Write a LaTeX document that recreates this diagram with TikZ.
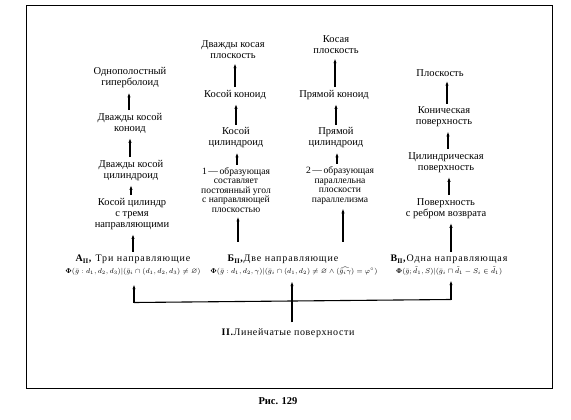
\documentclass[tikz,border=0pt]{standalone}
\usepackage{amsmath}
\usepackage{amssymb}
\usepackage{fontspec}
\setmainfont{Liberation Serif}
\usetikzlibrary{arrows.meta}
\tikzset{
  lbl/.style={align=center, inner sep=1pt, font=\fontsize{10.5}{11}\selectfont},
  small/.style={align=center, inner sep=1pt, font=\fontsize{9.6}{9.4}\selectfont},
  base/.style={align=center, inner sep=1pt, font=\fontsize{10}{10.5}\selectfont\addfontfeature{LetterSpace=9}},
  arr/.style={line width=1.3pt, -{Latex[length=5pt,width=3.2pt]}, shorten <=2pt, shorten >=3pt},
  bar/.style={line width=1.1pt},
  frame/.style={line width=0.9pt}
}
\newcommand{\frmsize}{\fontsize{7.2}{9}\selectfont}
\begin{document}
\begin{tikzpicture}[x=1pt,y=-1pt]
\useasboundingbox (0,0) rectangle (571,420);
\draw[frame] (26,5) rectangle (552,388);

% column 1
\node[lbl] (n11) at (130,78) {Однополостный\\гиперболоид};
\node[lbl] (n12) at (130,123.5) {Дважды косой\\коноид};
\node[lbl] (n13) at (131,170.5) {Дважды косой\\цилиндроид};
\node[lbl] (n14) at (132,214) {Косой цилиндр\\с тремя\\направляющими};
\node[base] (a) at (133,265) {\textbf{А$_{\mathbf{II}}$,} Три направляющие\\[1pt]
  {\frmsize$\boldsymbol{\Phi}(\bar g : d_1, d_2, d_3)|(\bar g_i \cap (d_1, d_2, d_3) \neq \varnothing)$}};

% column 2
\node[lbl] (n21) at (233,50) {Дважды косая\\плоскость};
\node[lbl] (n22) at (235,95) {Косой коноид};
\node[lbl] (n23) at (236,138) {Косой\\цилиндроид};
\node[small] (n24) at (236,190) {1\,—\,образующая\\составляет\\постоянный угол\\с направляющей\\плоскостью};

% column 3
\node[lbl] (n31) at (336,45) {Косая\\плоскость};
\node[lbl] (n32) at (334,95) {Прямой коноид};
\node[lbl] (n33) at (336,138) {Прямой\\цилиндроид};
\node[small] (n34) at (340,185.5) {2\,—\,образующая\\параллельна\\плоскости\\параллелизма};

\node[base] (b) at (294,265) {\textbf{Б$_{\mathbf{II}}$,}Две направляющие\hspace*{22pt}\\[1pt]
  {\frmsize$\boldsymbol{\Phi}(\bar g : d_1, d_2, \gamma)|(\bar g_i \cap (d_1, d_2) \neq \varnothing \wedge (\widehat{\bar g_i \gamma}) = \varphi^\circ)$}};

% column 4
\node[lbl] (n41) at (440,73) {Плоскость};
\node[lbl] (n42) at (444,117) {Коническая\\поверхность};
\node[lbl] (n43) at (446,162.5) {Цилиндрическая\\поверхность};
\node[lbl] (n44) at (446,208.5) {Поверхность\\с ребром возврата};
\node[base] (c) at (449,265) {\textbf{В$_{\mathbf{II}}$,}Одна направляющая\\[1pt]
  {\frmsize$\boldsymbol{\Phi}(\bar g ; \tilde d_1, S)|(\bar g_i \sqcap \tilde d_1 - S_i \in \tilde d_1)$}};

\node[base, font=\fontsize{10}{11}\selectfont\addfontfeature{LetterSpace=6}] (root) at (288,333) {\textbf{II.}Линейчатые поверхности};
\node[inner sep=1pt, font=\fontsize{10.5}{12}\selectfont\bfseries] (fig) at (278,401) {Рис. 129};

% arrows column 1
\draw[arr] (n12.north -| 129,0) -- (n11.south -| 129,0);
\draw[arr] (n13.north -| 130,0) -- (n12.south -| 130,0);
\draw[arr] (n14.north -| 131,0) -- (n13.south -| 131,0);
\draw[arr] (a.north -| 133,0) -- (n14.south -| 133,0);

% arrows column 2
\draw[arr] (n22.north -| 235,0) -- (n21.south -| 235,0);
\draw[arr] (n23.north -| 236,0) -- (n22.south -| 236,0);
\draw[arr] (n24.north -| 237,0) -- (n23.south -| 237,0);
\draw[arr, shorten <=12pt] (b.north -| 238,0) -- (n24.south -| 238,0);

% arrows column 3
\draw[arr] (n32.north -| 335,0) -- (n31.south -| 335,0);
\draw[arr] (n33.north -| 336,0) -- (n32.south -| 336,0);
\draw[arr] (n34.north -| 337,0) -- (n33.south -| 337,0);
\draw[arr, shorten <=12pt] (b.north -| 343,0) -- (n34.south -| 343,0);

% arrows column 4
\draw[arr] (n42.north -| 447,0) -- (n41.south -| 447,0);
\draw[arr] (n43.north -| 448,0) -- (n42.south -| 448,0);
\draw[arr] (n44.north -| 449,0) -- (n43.south -| 449,0);
\draw[arr] (c.north -| 451,0) -- (n44.south -| 451,0);

% bottom bracket
\coordinate (bl) at (134,302.5);
\coordinate (br) at (451,299.5);
\draw[bar] (bl) -- (br);
\draw[arr, shorten <=0pt, shorten >=8pt] (bl) -- (bl |- a.south);
\draw[arr, shorten <=0pt, shorten >=4pt] (br) -- (br |- c.south);
\draw[arr, shorten <=5pt, shorten >=5pt] (root.north -| 292,0) -- (b.south -| 292,0);
\end{tikzpicture}
\end{document}
